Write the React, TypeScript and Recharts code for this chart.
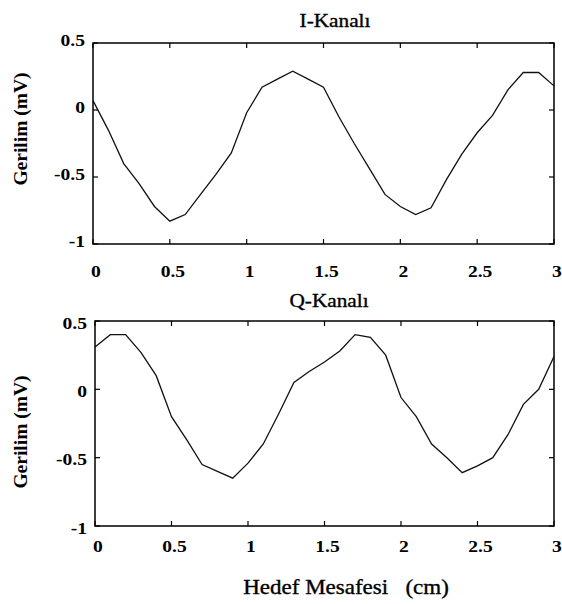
import React from 'react';
import { LineChart, Line, XAxis, YAxis, ReferenceArea } from 'recharts';

// Target distance (cm)
const distanceCm = [
  0, 0.1, 0.2, 0.3, 0.4, 0.5, 0.6, 0.7, 0.8, 0.9, 1.0,
  1.1, 1.2, 1.3, 1.4, 1.5, 1.6, 1.7, 1.8, 1.9, 2.0,
  2.1, 2.2, 2.3, 2.4, 2.5, 2.6, 2.7, 2.8, 2.9, 3.0,
];

// I-channel voltage (mV)
const iChannel = [
  0.07, -0.15, -0.4, -0.55, -0.72, -0.83, -0.78, -0.63, -0.48, -0.32, -0.02,
  0.17, 0.23, 0.29, 0.23, 0.17, -0.05, -0.25, -0.44, -0.63, -0.72,
  -0.78, -0.73, -0.52, -0.33, -0.17, -0.04, 0.15, 0.28, 0.28, 0.18,
];

// Q-channel voltage (mV)
const qChannel = [
  0.31, 0.4, 0.4, 0.27, 0.1, -0.2, -0.37, -0.55, -0.6, -0.65, -0.54,
  -0.4, -0.18, 0.05, 0.13, 0.2, 0.28, 0.4, 0.38, 0.25, -0.06,
  -0.2, -0.4, -0.5, -0.61, -0.56, -0.5, -0.33, -0.11, 0.0, 0.24,
];

const xTicks = [0, 0.5, 1, 1.5, 2, 2.5, 3];
const yTicks = [-1, -0.5, 0, 0.5];
const panelTitles = ['I-Kanalı', 'Q-Kanalı'];
const yLabelText = 'Gerilim (mV)';
const xLabelText = 'Hedef Mesafesi   (cm)';

const FONT = '"Liberation Serif", "Times New Roman", serif';
const fmt = (v: number) => String(v);

function makeXTick(plotTop: number, plotBottom: number, labelOffset: number) {
  return (props: any) => {
    const { x, payload } = props;
    return (
      <g>
        <line x1={x} x2={x} y1={plotBottom} y2={plotBottom - 5} stroke="#000" strokeWidth={1.2} />
        <line x1={x} x2={x} y1={plotTop} y2={plotTop + 5} stroke="#000" strokeWidth={1.2} />
        <text
          transform={`translate(${x + 3},${plotBottom + labelOffset}) scale(1.15,1)`}
          textAnchor="middle"
          dominantBaseline="central"
          fontFamily={FONT}
          fontWeight="bold"
          fontSize={17}
          fill="#000"
        >
          {fmt(payload.value)}
        </text>
      </g>
    );
  };
}

function makeYTick(plotLeft: number, plotRight: number, labelShift: number) {
  return (props: any) => {
    const { y, payload } = props;
    return (
      <g>
        <line x1={plotLeft} x2={plotLeft + 5} y1={y} y2={y} stroke="#000" strokeWidth={1.2} />
        <line x1={plotRight} x2={plotRight - 5} y1={y} y2={y} stroke="#000" strokeWidth={1.2} />
        <text
          transform={`translate(${plotLeft - 8},${y + labelShift}) scale(1.15,1)`}
          textAnchor="end"
          dominantBaseline="central"
          fontFamily={FONT}
          fontWeight="bold"
          fontSize={17}
          fill="#000"
        >
          {fmt(payload.value)}
        </text>
      </g>
    );
  };
}

type PanelProps = {
  values: number[];
  height: number;
  marginTop: number;
  xAxisHeight: number;
  yAxisWidth: number;
  xLabelOffset: number;
  yLabelShift: number;
};

const WIDTH = 562;
const RIGHT = 8;

function Panel({ values, height, marginTop, xAxisHeight, yAxisWidth, xLabelOffset, yLabelShift }: PanelProps) {
  const data = distanceCm.map((d, i) => ({ x: d, v: values[i] }));
  const plotTop = marginTop;
  const plotBottom = height - xAxisHeight;
  const plotLeft = yAxisWidth;
  const plotRight = WIDTH - RIGHT;
  return (
    <LineChart
      width={WIDTH}
      height={height}
      data={data}
      margin={{ top: marginTop, right: RIGHT, bottom: 0, left: 0 }}
    >
      <XAxis
        dataKey="x"
        type="number"
        domain={[0, 3]}
        ticks={xTicks}
        interval={0}
        height={xAxisHeight}
        axisLine={false}
        tickLine={false}
        tick={makeXTick(plotTop, plotBottom, xLabelOffset)}
      />
      <YAxis
        type="number"
        domain={[-1, 0.5]}
        ticks={yTicks}
        interval={0}
        width={yAxisWidth}
        axisLine={false}
        tickLine={false}
        tick={makeYTick(plotLeft, plotRight, yLabelShift)}
      />
      <ReferenceArea x1={0} x2={3} y1={-1} y2={0.5} fill="none" stroke="#000" strokeWidth={1.5} />
      <Line
        type="linear"
        dataKey="v"
        stroke="#111"
        strokeWidth={1.3}
        dot={false}
        isAnimationActive={false}
      />
    </LineChart>
  );
}

export default function App() {
  return (
    <div style={{ position: 'absolute', left: 0, top: 0, width: 562, height: 604, background: '#fff' }}>
      <div style={{ position: 'absolute', left: 0, top: 0 }}>
        <Panel
          values={iChannel}
          height={290}
          marginTop={43}
          xAxisHeight={46}
          yAxisWidth={93}
          xLabelOffset={27}
          yLabelShift={-3}
        />
      </div>
      <div style={{ position: 'absolute', left: 0, top: 280 }}>
        <Panel
          values={qChannel}
          height={300}
          marginTop={41}
          xAxisHeight={54}
          yAxisWidth={95}
          xLabelOffset={20}
          yLabelShift={2}
        />
      </div>
      <svg
        width={562}
        height={604}
        style={{ position: 'absolute', left: 0, top: 0, pointerEvents: 'none' }}
      >
        <text transform="translate(335,20) scale(1.12,1)" textAnchor="middle" dominantBaseline="central" fontFamily={FONT} fontSize={19} fill="#000" stroke="#000" strokeWidth={0.35}>
          {panelTitles[0]}
        </text>
        <text transform="translate(329,300) scale(1.12,1)" textAnchor="middle" dominantBaseline="central" fontFamily={FONT} fontSize={19} fill="#000" stroke="#000" strokeWidth={0.35}>
          {panelTitles[1]}
        </text>
        <text transform="translate(20,129) rotate(-90)" textAnchor="middle" dominantBaseline="central" fontFamily={FONT} fontWeight="bold" fontSize={19.5} fill="#000">
          {yLabelText}
        </text>
        <text transform="translate(20,432) rotate(-90)" textAnchor="middle" dominantBaseline="central" fontFamily={FONT} fontWeight="bold" fontSize={19.5} fill="#000">
          {yLabelText}
        </text>
        <text transform="translate(346,588) scale(1.15,1)" textAnchor="middle" dominantBaseline="central" fontFamily={FONT} fontSize={20} fill="#000" stroke="#000" strokeWidth={0.35} style={{ whiteSpace: 'pre' }}>
          {xLabelText}
        </text>
      </svg>
    </div>
  );
}
